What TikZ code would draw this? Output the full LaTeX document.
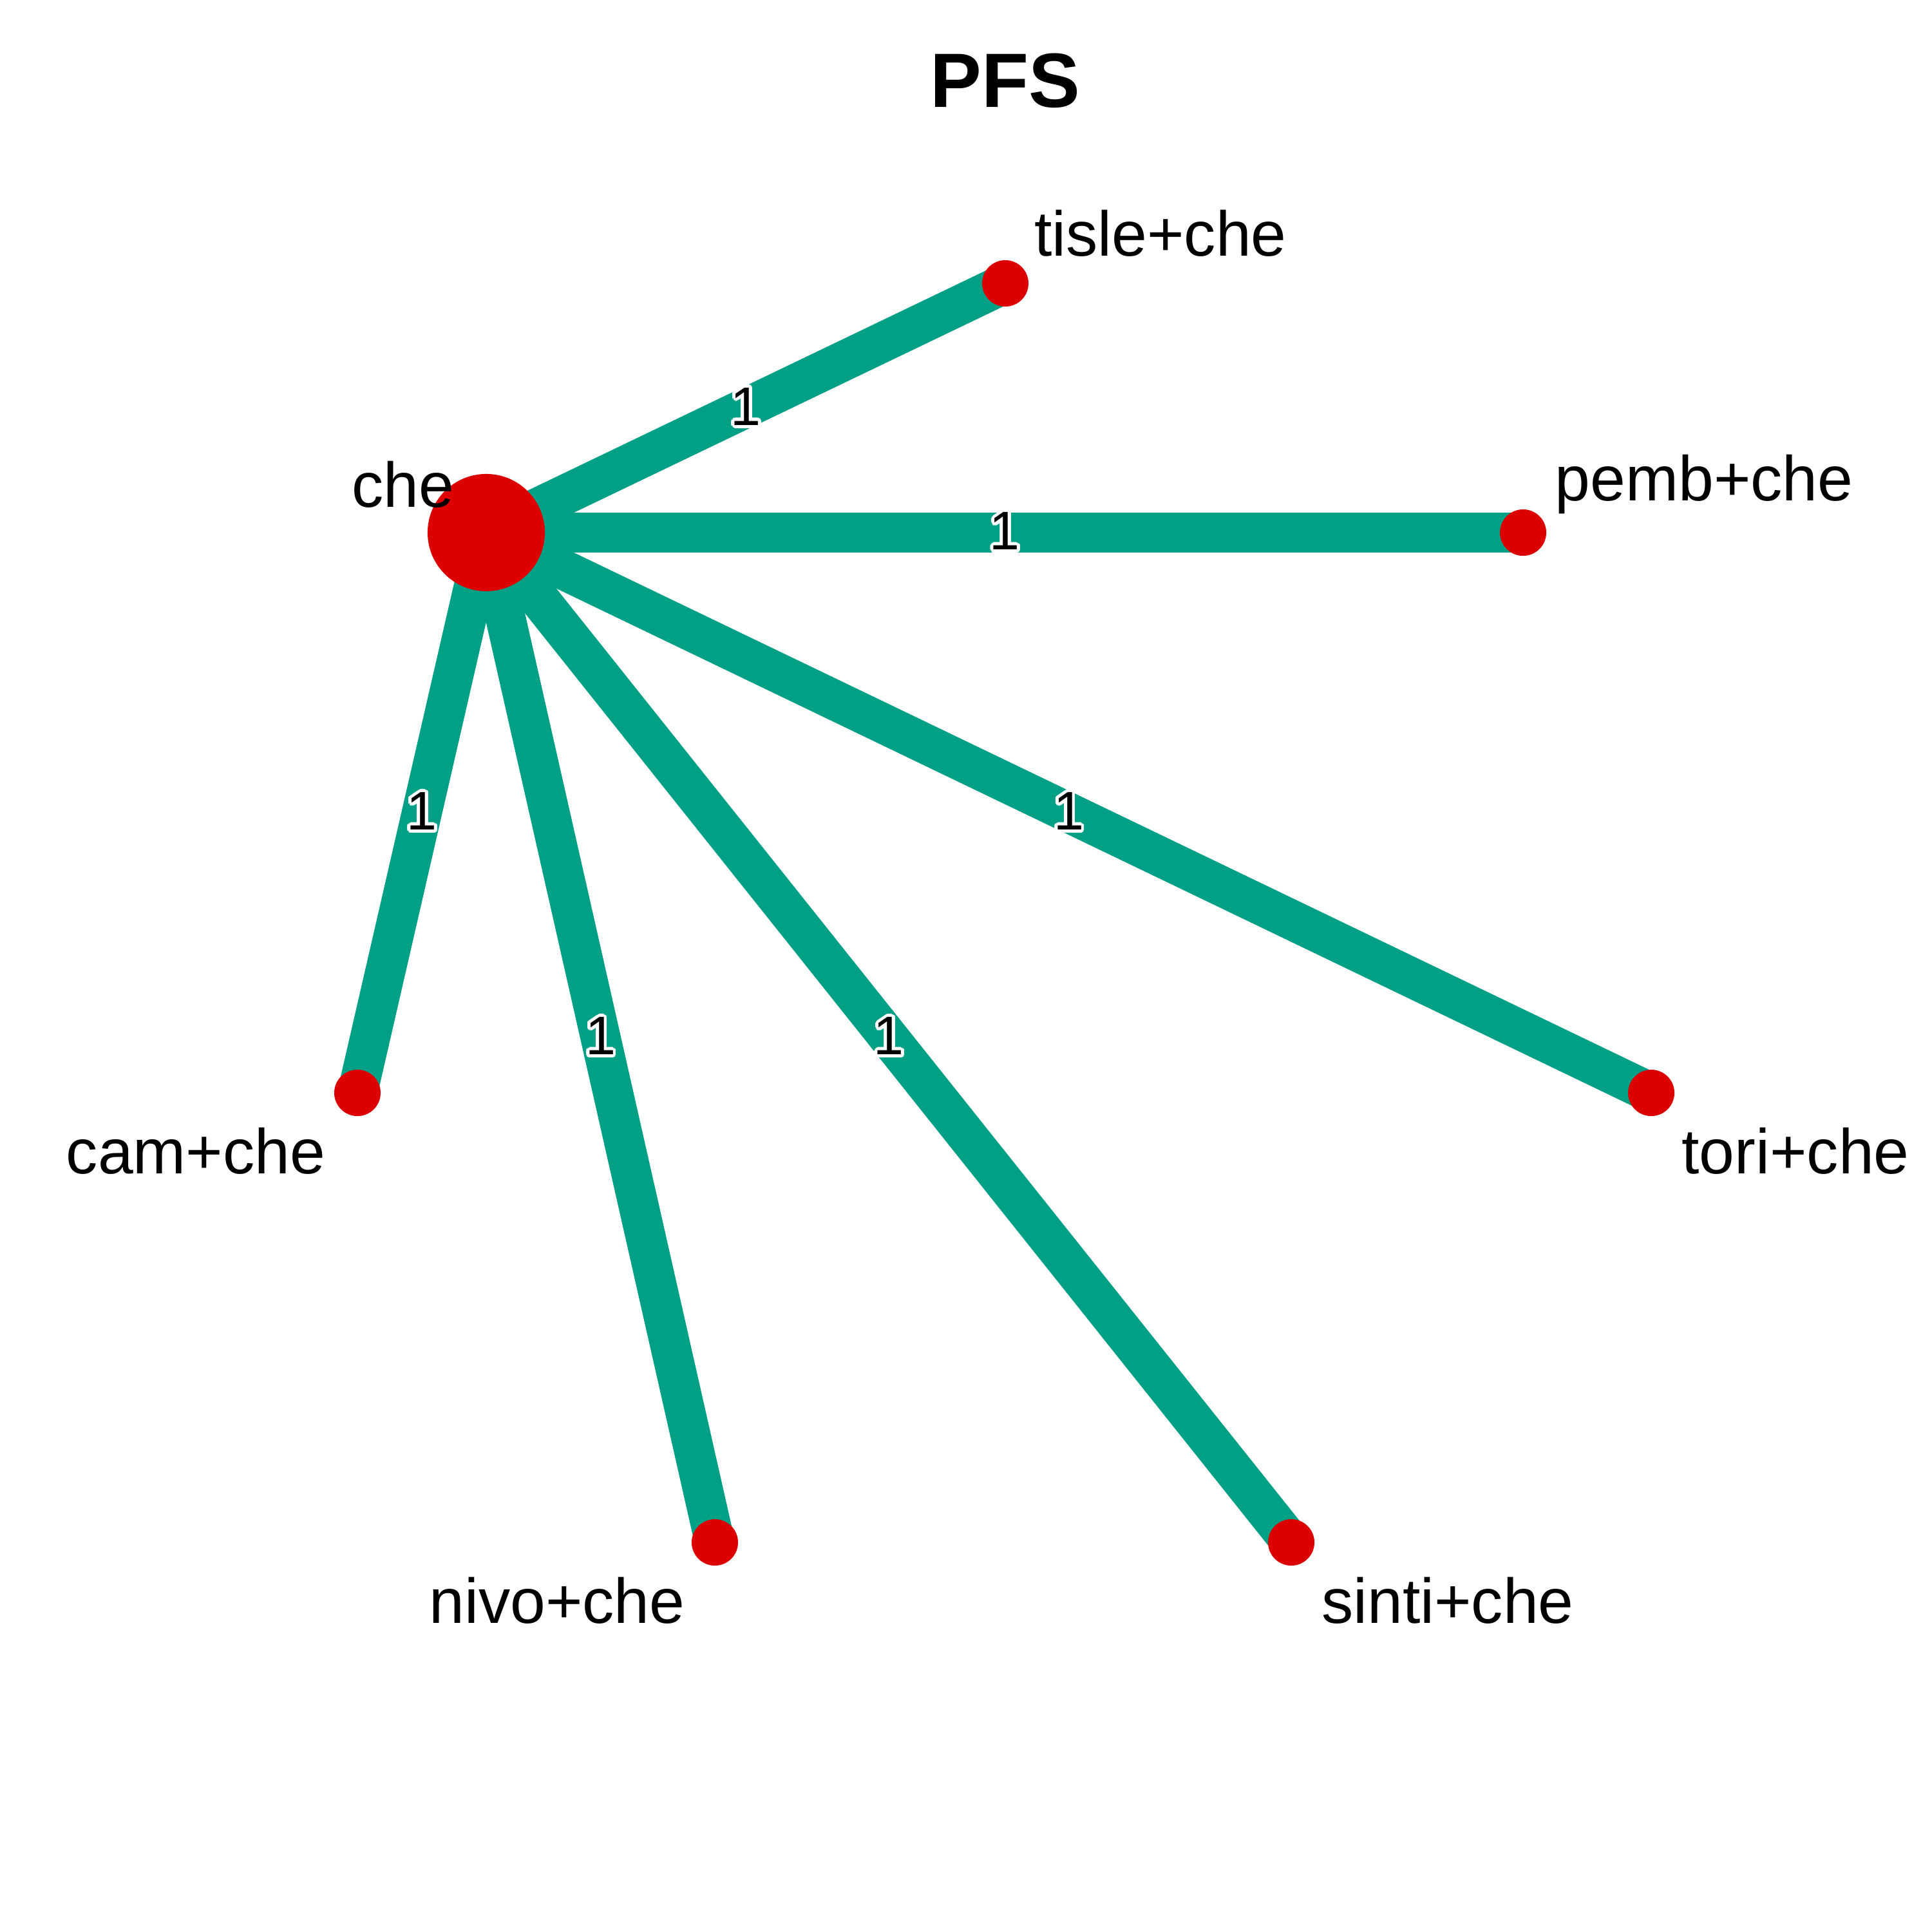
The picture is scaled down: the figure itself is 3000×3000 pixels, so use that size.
\documentclass[tikz,border=0pt]{standalone}
\usepackage{fontspec}
\setmainfont{Liberation Sans}
\usepackage[copies]{contour}
\usepackage{tikz}
\usetikzlibrary{
  positioning,
  backgrounds
}
\definecolor{EdgeTeal}{HTML}{00A087}
\definecolor{NodeRed}{HTML}{DC0000}
\contourlength{1.4pt}
\contournumber{16}
\tikzset{
  treatment/.style={
    circle,
    fill=NodeRed,
    inner sep=0pt,
    minimum size=0.72cm
  },
  reference/.style={
    treatment,
    minimum size=1.82cm
  },
  trialedge/.style={
    draw=EdgeTeal,
    line width=0.62cm
  },
  trialcount/.style={
    font=\fontsize{24}{24}\selectfont,
    inner sep=0pt
  },
  armlabel/.style={
    font=\fontsize{28}{28}\selectfont,
    inner sep=0pt
  }
}
\newcommand{\trials}[1]{\contour{white}{#1}}

\begin{document}
\begin{tikzpicture}[x=0.01cm, y=-0.01cm]

  \useasboundingbox (0,0) rectangle (3000,3000);

  \node[font=\fontsize{34}{34}\selectfont\bfseries] (title) at (1561,125) {PFS};

  % treatments
  \node[reference] (che) at (755,827) {};
  \node[treatment] (tisle) at (1561,440) {};
  \node[treatment] (pemb) at (2365,827) {};
  \node[treatment] (tori) at (2564,1697) {};
  \node[treatment] (sinti) at (2005,2395) {};
  \node[treatment] (nivo) at (1110,2395) {};
  \node[treatment] (cam) at (555,1697) {};

  % comparisons
  \begin{scope}[on background layer]
    \foreach \arm in {tisle, pemb, tori, sinti, nivo, cam} {
      \draw[trialedge] (che.center) --
      node[trialcount] {\trials{1}}
      (\arm.center);
    }
  \end{scope}

  % labels
  \node[armlabel] (chelab) at (626,752) {che};
  \node[armlabel] (tislelab) at (1802,362) {tisle+che};
  \node[armlabel] (pemblab) at (2646,752) {pemb+che};
  \node[armlabel] (torilab) at (2788,1787) {tori+che};
  \node[armlabel] (sintilab) at (2248,2485) {sinti+che};
  \node[armlabel] (nivolab) at (865,2485) {nivo+che};
  \node[armlabel] (camlab) at (304,1787) {cam+che};

\end{tikzpicture}
\end{document}
